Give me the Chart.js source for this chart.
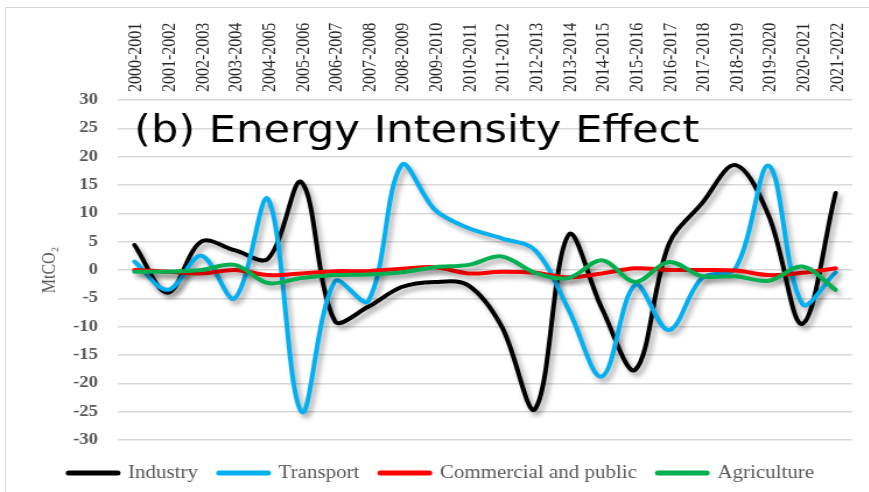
<!DOCTYPE html>
<html>
<head>
<meta charset="utf-8">
<script src="https://cdn.jsdelivr.net/npm/chart.js@4.4.1/dist/chart.umd.min.js"></script>
<style>
  body { margin: 0; background: #fff; overflow: hidden; }
  #wrap { position: relative; width: 869px; height: 492px; overflow: hidden; }
  /* the source figure is stretched sideways, so stretch the canvas the same way */
  #lineChart { position: absolute; left: 0; top: 0; transform: scaleX(1.166); transform-origin: 0 0; }
  #frame { position: absolute; left: 5px; top: 7px; width: 900px; height: 500px; border: 1px solid #d9d9d9; pointer-events: none; }
</style>
</head>
<body>
<div id="wrap">
  <canvas id="lineChart" width="745" height="492"></canvas>
  <div id="frame"></div>
</div>
<script>
const periods = ['2000-2001', '2001-2002', '2002-2003', '2003-2004', '2004-2005', '2005-2006', '2006-2007', '2007-2008',
  '2008-2009', '2009-2010', '2010-2011', '2011-2012', '2012-2013', '2013-2014', '2014-2015', '2015-2016',
  '2016-2017', '2017-2018', '2018-2019', '2019-2020', '2020-2021', '2021-2022'];

const industry = [4.4, -4, 5, 3.5, 2, 15.5, -9, -6.5, -3, -2.1, -2.7, -10, -24.5, 6.2, -6.8, -17.6, 4.5, 11.8, 18.5, 9.5, -9.5, 13.6];
const transport = [1.5, -3.5, 2.5, -5, 12.5, -25, -2, -5.5, 18.5, 10.6, 7.4, 5.6, 3.5, -7, -18.8, -2.6, -10.6, -1.4, 0.3, 18.4, -6, -0.4];
const commercial = [0, -0.3, -0.6, 0, -0.9, -0.6, -0.2, -0.2, 0.2, 0.5, -0.6, -0.3, -0.5, -1.3, -0.6, 0.3, 0, 0, -0.1, -0.9, -0.5, 0.3];
const agriculture = [-0.3, -0.3, 0, 0.9, -2.3, -1.4, -0.9, -0.8, -0.4, 0.5, 0.9, 2.4, -0.5, -1.4, 1.7, -2.1, 1.4, -1.1, -1.1, -1.9, 0.6, -3.5];

const yTicks = [-30, 30, 5]; // min, max, step

// drop shadow under each line, like the Excel chart
const shadowPlugin = {
  id: 'lineShadow',
  beforeDatasetDraw(chart) {
    const ctx = chart.ctx;
    ctx.save();
    ctx.shadowColor = 'rgba(0, 0, 0, 0.35)';
    ctx.shadowBlur = 5;
    ctx.shadowOffsetX = 3;
    ctx.shadowOffsetY = 4;
  },
  afterDatasetDraw(chart) {
    chart.ctx.restore();
  }
};

// big caption written inside the plot area
const captionPlugin = {
  id: 'caption',
  afterDatasetsDraw(chart) {
    const ctx = chart.ctx;
    ctx.save();
    ctx.font = '37px "DejaVu Sans"';
    ctx.fillStyle = '#000';
    ctx.textBaseline = 'alphabetic';
    ctx.fillText('(b) Energy Intensity Effect', 115, 142);
    ctx.restore();
  }
};

const serif = '"Liberation Serif", "Times New Roman", serif';

const ctx = document.getElementById('lineChart').getContext('2d');
const lineChart = new Chart(ctx, {
  type: 'line',
  data: {
    labels: periods,
    datasets: [
      { label: 'Industry', data: industry, borderColor: '#000000', backgroundColor: '#000000', order: 3 },
      { label: 'Transport', data: transport, borderColor: '#00b0f0', backgroundColor: '#00b0f0', order: 2 },
      { label: 'Commercial and public', data: commercial, borderColor: '#ff0000', backgroundColor: '#ff0000', order: 1 },
      { label: 'Agriculture', data: agriculture, borderColor: '#00b050', backgroundColor: '#00b050', order: 0 }
    ]
  },
  options: {
    responsive: false,
    animation: false,
    layout: { padding: { left: 26, right: 14, top: 0, bottom: 0 } },
    elements: {
      line: { borderWidth: 4, tension: 0.35, borderCapStyle: 'round', borderJoinStyle: 'round', fill: false },
      point: { radius: 0 }
    },
    scales: {
      x: {
        position: 'top',
        offset: true,
        grid: { display: false },
        border: { display: false },
        ticks: {
          autoSkip: false,
          minRotation: 90,
          maxRotation: 90,
          padding: 0,
          labelOffset: 21,
          color: '#262626',
          font: { family: serif, size: 16 }
        },
        afterFit(scale) { scale.height = 100; }
      },
      y: {
        min: yTicks[0],
        max: yTicks[1],
        grid: { color: '#d9d9d9', lineWidth: 1.5, drawTicks: false },
        border: { display: false },
        ticks: {
          stepSize: yTicks[2],
          padding: 17,
          color: '#595959',
          font: { family: serif, size: 16, weight: 'bold' }
        },
        title: {
          display: true,
          text: 'MtCO\u2082',
          color: '#595959',
          font: { family: serif, size: 16 },
          padding: { top: 7, bottom: 0 }
        },
        afterFit(scale) { scale.width = 75; }
      }
    },
    plugins: {
      tooltip: { enabled: false },
      legend: {
        position: 'bottom',
        title: { display: true, text: ' ', font: { size: 5 }, padding: 0 },
        labels: {
          usePointStyle: true,
          pointStyle: 'line',
          pointStyleWidth: 42,
          padding: 18,
          color: '#595959',
          font: { family: serif, size: 18 },
          sort: (a, b) => a.datasetIndex - b.datasetIndex,
          generateLabels(chart) {
            const items = Chart.defaults.plugins.legend.labels.generateLabels(chart);
            items.forEach(item => {
              const ds = chart.data.datasets[item.datasetIndex];
              item.strokeStyle = ds.borderColor;
              item.fillStyle = ds.borderColor;
              item.lineWidth = 5;
              item.lineCap = 'round';
            });
            return items;
          }
        }
      }
    }
  },
  plugins: [shadowPlugin, captionPlugin]
});
</script>
</body>
</html>
